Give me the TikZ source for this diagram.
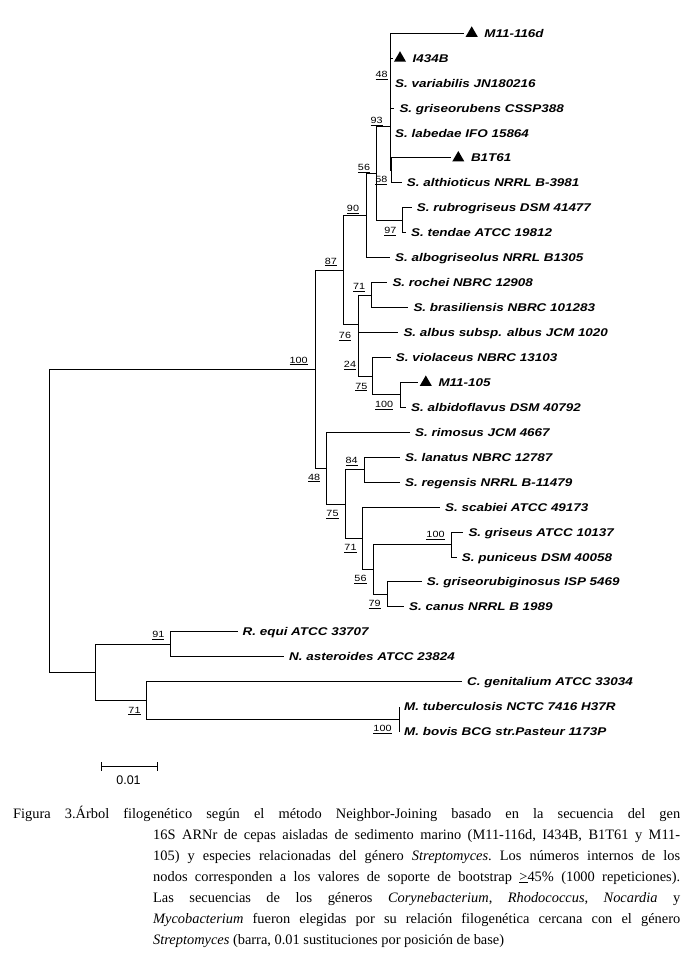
\documentclass[tikz,border=0pt]{standalone}
\usepackage{fontspec}
\setmainfont{Liberation Serif}
\setsansfont{Liberation Sans}
\newfontfamily\treefont[FakeStretch=1.2]{Liberation Sans}
\usetikzlibrary{positioning,shapes.geometric}

\begin{document}
\begin{tikzpicture}[x=1pt, y=-1pt]
        \tikzstyle{leaf} = [anchor=west, inner xsep=5pt, inner ysep=0pt, text height=8pt, text depth=0pt,
            font=\treefont\bfseries\itshape\fontsize{11.2}{13}\selectfont]
        \tikzstyle{isolate} = [regular polygon, regular polygon sides=3, fill=black,
            minimum size=14pt, inner sep=0pt, outer sep=3pt]
        \tikzstyle{boot} = [anchor=base, inner sep=0pt, font=\treefont\fontsize{9}{10}\selectfont]
        \tikzstyle{branch} = [draw=black, line width=1pt]
        \useasboundingbox (0,0) rectangle (688,968);
        % leaves
        \foreach \n/\i/\x/\t in {var/2/390/S. variabilis JN180216,
            gru/3/394.3/S. griseorubens CSSP388, lab/4/390/S. labedae IFO 15864,
            alt/6/401.7/S. althioticus NRRL B-3981, rub/7/411.7/S. rubrogriseus DSM 41477,
            ten/8/405.9/S. tendae ATCC 19812, alg/9/390/S. albogriseolus NRRL B1305,
            roc/10/387.3/S. rochei NBRC 12908, bra/11/408.3/S. brasiliensis NBRC 101283,
            alb/12/398.3/S. albus subsp. albus JCM 1020, vio/13/390.7/S. violaceus NBRC 13103,
            afl/15/406/S. albidoflavus DSM 40792, rim/16/410/S. rimosus JCM 4667,
            lan/17/400/S. lanatus NBRC 12787, reg/18/400/S. regensis NRRL B-11479,
            sca/19/440/S. scabiei ATCC 49173, gri/20/463.3/S. griseus ATCC 10137,
            pun/21/456.7/S. puniceus DSM 40058, grb/22/421.7/S. griseorubiginosus ISP 5469,
            can/23/404/S. canus NRRL B 1989, equ/24/237.5/R. equi ATCC 33707,
            ast/25/284/N. asteroides ATCC 23824, gen/26/462/C. genitalium ATCC 33034,
            tub/27/399/M. tuberculosis NCTC 7416 H37R, bov/28/399/M. bovis BCG str.Pasteur 1173P}
            \node[leaf] (\n) at (\x, {33.3+24.94*\i}) {\t};
        % marine isolates
        \foreach \n/\i/\x/\t in {t0/0/471.7/M11-116d, t1/1/400/I434B, t5/5/458.3/B1T61, t14/14/425.8/M11-105}
        {
            \node[isolate] (\n) at (\x, {33.3+24.94*\i}) {};
            \node[leaf, right=0pt of \n] {\t};
        }
        % inner nodes
        \coordinate (cZ) at (390, 83.18);
        \coordinate (cR) at (391.7, 170.47);
        \coordinate (cX) at (390, 126.83);
        \coordinate (cT) at (402.7, 220.35);
        \coordinate (cY) at (376.7, 173.59);
        \coordinate (cW) at (366, 215.68);
        \coordinate (cRB) at (371.7, 295.17);
        \coordinate (cA) at (400, 394.93);
        \coordinate (cV) at (372.7, 376.23);
        \coordinate (c24) at (358.3, 354.4);
        \coordinate (c76) at (358.3, 324.79);
        \coordinate (c87) at (343.3, 270.24);
        \coordinate (c84) at (364.3, 469.75);
        \coordinate (cGP) at (451.7, 544.57);
        \coordinate (c79) at (387.3, 594.45);
        \coordinate (c56) at (373.3, 569.51);
        \coordinate (c71) at (362.3, 538.34);
        \coordinate (c75) at (345.7, 504.05);
        \coordinate (c48) at (326.7, 468.2);
        \coordinate (crown) at (315, 369.22);
        \coordinate (c91) at (170, 644.33);
        \coordinate (cM) at (399, 719.15);
        \coordinate (cC) at (146, 700.45);
        \coordinate (cO) at (95, 672.39);
        \coordinate (root) at (49.3, 520.8);
        \foreach \from/\to in {root/crown, root/cO, crown/c87, crown/c48, c87/cW, c87/c76,
            cW/cY, cW/alg, cY/cX, cY/cT, cX/cZ, cX/cR, cZ/t0, cZ/t1, cZ/var, cZ/gru, cZ/lab,
            cR/t5, cR/alt, cT/rub, cT/ten, c76/cRB, c76/c24, cRB/roc, cRB/bra, c24/alb, c24/cV,
            cV/vio, cV/cA, cA/t14, cA/afl, c48/rim, c48/c75, c75/c84, c75/c71, c84/lan, c84/reg,
            c71/sca, c71/c56, c56/cGP, c56/c79, cGP/gri, cGP/pun, c79/grb, c79/can,
            cO/c91, cO/cC, c91/equ, c91/ast, cC/gen, cC/cM, cM/tub, cM/bov}
            \draw[branch] (\from) |- (\to);
        % bootstrap values
        \foreach \x/\y/\v in {381.7/77.8/48, 376.7/123.6/93, 364/170.3/56, 381.3/182.8/58,
            353/212/90, 390.3/233.3/97, 330.8/264/87, 359.2/289.6/71, 345/338.3/76,
            350/367.3/24, 361.3/389.1/75, 384.2/407.6/100, 298.7/363/100, 351.7/463.3/84,
            314.2/480/48, 332.5/516.6/75, 435.5/537.8/100, 350.5/550.3/71, 360.5/581.6/56,
            374.5/606.6/79, 158.3/637.5/91, 134.5/713/71, 382.5/731.6/100}
            \node[boot] at (\x,\y) {\underline{\v}};
        % scale bar
        \coordinate (s1) at (101.8, 766.7);
        \coordinate (s2) at (157.9, 766.7);
        \draw[branch] (s1) -- (s2);
        \draw[branch] ([yshift=4.5pt]s1) -- ([yshift=-4.5pt]s1);
        \draw[branch] ([yshift=4.5pt]s2) -- ([yshift=-4.5pt]s2);
        \node[font=\sffamily\fontsize{12.5}{14}\selectfont, inner sep=0pt] (bar) at (128.5, 780) {0.01};
        % caption
        \node[anchor=north west, inner sep=0pt, text width=667pt, align=justify,
            font=\fontsize{14.4}{21}\selectfont] (caption) at (13, 805.5)
            {\frenchspacing\hangindent=140pt\hangafter=1 Figura 3.Árbol filogenético según el método Neighbor-Joining basado en la secuencia del gen\linebreak
            16S ARNr de cepas aisladas de sedimento marino (M11-116d, I434B, B1T61 y M11-\linebreak
            105) y especies relacionadas del género \textit{Streptomyces}. Los números internos de los\linebreak
            nodos corresponden a los valores de soporte de bootstrap \underline{>}45\% (1000 repeticiones).\linebreak
            Las secuencias de los géneros \textit{Corynebacterium}, \textit{Rhodococcus}, \textit{Nocardia} y\linebreak
            \textit{Mycobacterium} fueron elegidas por su relación filogenética cercana con el género\linebreak
            \textit{Streptomyces} (barra, 0.01 sustituciones por posición de base)\par};
    \end{tikzpicture}
\end{document}
